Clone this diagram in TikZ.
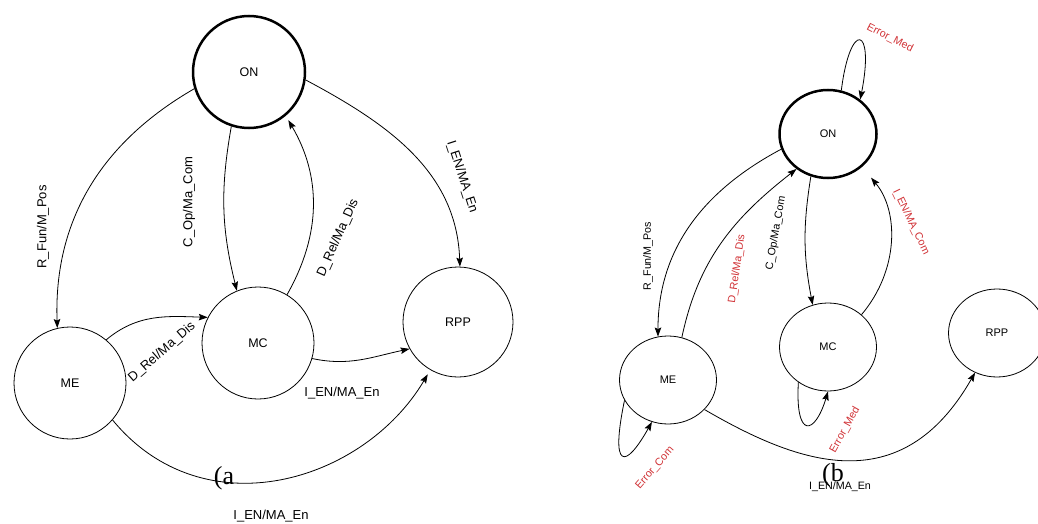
\documentclass[tikz,border=0pt]{standalone}
\usepackage{fontspec}
\setmainfont{Liberation Serif}
\setsansfont{Liberation Sans}
\usetikzlibrary{arrows.meta,shapes.geometric}
\definecolor{errred}{RGB}{208,48,52}

\begin{document}
\begin{tikzpicture}[x=1pt,y=1pt,->,>={Stealth[length=9pt,width=6.5pt,inset=1.5pt]},line width=0.8pt,
  main node/.style={circle,draw,inner sep=0pt,minimum size=112pt,font=\sffamily\fontsize{12.5}{13}\selectfont},
  small node/.style={ellipse,draw,inner sep=0pt,minimum width=97pt,minimum height=88pt,font=\sffamily\fontsize{11}{12}\selectfont},
  start node/.style={line width=2.5pt},
  lbl/.style={font=\sffamily\fontsize{13}{14}\selectfont,inner sep=0pt},
  small lbl/.style={font=\sffamily\fontsize{10.7}{12}\selectfont,inner sep=0pt},
  err lbl/.style={small lbl,text=errred},
  tag/.style={font=\fontsize{26}{26}\selectfont,inner sep=0pt}]

 \useasboundingbox (0,0) rectangle (1038,523);

 % (a)
 \node[main node,start node] (ONa) at (249,451) {ON};
 \node[main node] (MEa) at (70,140) {ME};
 \node[main node] (MCa) at (258,180) {MC};
 \node[main node,minimum size=110pt] (RPPa) at (458,201) {RPP};

 \path
    (ONa.197) edge [out=210,in=92] (MEa.103)
    (ONa.252) edge [bend right=12] (MCa.112)
    (MCa.59)  edge [bend right=30,shorten >=5pt] (ONa.310)
    (ONa.352) edge [out=-28,in=92] (RPPa.88)
    (MEa.50)  edge [out=40,in=178] (MCa.153)
    (MCa.344) edge [out=-12,in=192] (RPPa.209);
 \draw[shorten >=5pt] (MEa.319) .. controls (204,-8) and (364,41) .. (RPPa.240);

 \node[lbl,rotate=90] (fa1) at (43,296) {R\_Fun/M\_Pos};
 \node[lbl,rotate=90] (fa2) at (189,321) {C\_Op/Ma\_Com};
 \node[lbl,rotate=66] (fa3) at (338,285) {D\_Rel/Ma\_Dis};
 \node[lbl,rotate=-72] (fa4) at (462,346) {I\_EN/MA\_En};
 \node[lbl,rotate=41] (fa5) at (162,171) {D\_Rel/Ma\_Dis};
 \node[lbl] (fa6) at (342,130) {I\_EN/MA\_En};
 \node[lbl] (fa7) at (271,7) {I\_EN/MA\_En};
 \node[tag] (taga) at (224,45) {(a};

 % (b)
 \node[small node,start node] (ONb) at (828,389) {ON};
 \node[small node] (MEb) at (668,143) {ME};
 \node[small node] (MCb) at (828,176) {MC};
 \node[small node] (RPPb) at (997,190) {RPP};

 \path
    (ONb.198) edge [out=208,in=90] (MEb.103)
    (MEb.72)  edge [out=78,in=218] (ONb.228)
    (ONb.248) edge [bend right=10] (MCb.110)
    (MCb.44)  edge [bend right=40,shorten >=14pt] (ONb.316);
 \draw (ONb.73) .. controls (850,503) and (875,498) .. (ONb.47);
 \draw (MCb.230) .. controls (795,83) and (815,88) .. (MCb.270);
 \draw (MEb.205) .. controls (610,53) and (625,53) .. (MEb.249);
 \draw (MEb.321) .. controls (798,59) and (901,21) .. (RPPb.241);

 \node[err lbl,rotate=-27] (fb1) at (890,485) {Error\_Med};
 \node[small lbl,rotate=90] (fb2) at (648,267) {R\_Fun/M\_Pos};
 \node[err lbl,rotate=82] (fb3) at (737,254) {D\_Rel/Ma\_Dis};
 \node[small lbl,rotate=80] (fb4) at (776,290) {C\_Op/Ma\_Com};
 \node[err lbl,rotate=-64] (fb5) at (911,301) {I\_EN/MA\_Com};
 \node[err lbl,rotate=61] (fb6) at (845,93) {Error\_Med};
 \node[err lbl,rotate=49] (fb7) at (655,55) {Error\_Com};
 \node[small lbl] (fb8) at (840,36) {I\_EN/MA\_En};
 \node[tag] (tagb) at (833,48) {(b};

\end{tikzpicture}
\end{document}
